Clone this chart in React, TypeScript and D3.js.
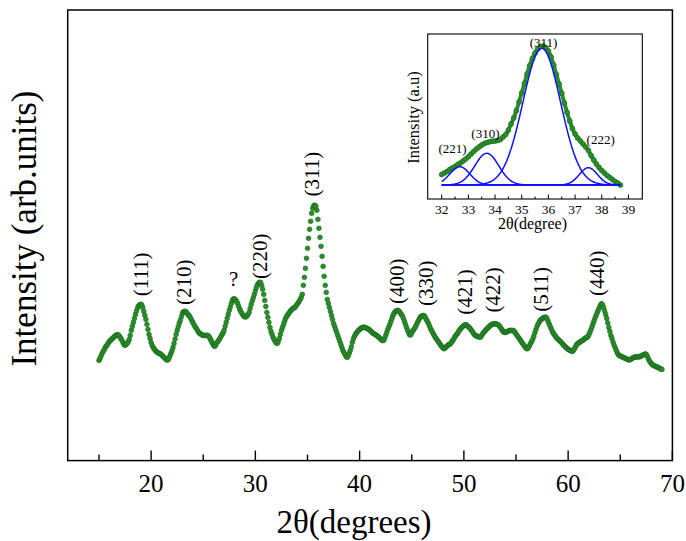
import React from 'react';
import * as d3 from 'd3';

const W = 686;
const H = 541;

// ---- main XRD pattern (2θ grid start/step, intensity in a.u.) ----
const mainStart = 15;
const mainStep = 0.1;
const mainIntensity = [
  100,102,104.5,107,109,110.5,113,114.5,115.5,117.5,
  119,120,121,122,123,124,125,125.5,125.7,125,
  123.5,122,120,118,116,115,116,117,118.5,121,
  125,130,134,138,142,146,149.5,152.5,154.5,155.5,
  156,155.5,153,149,145,141,136,131,126,122,
  118,115,113,111.5,110,109,108,107.5,107,106.5,
  105.5,104.5,103.5,102.5,101.5,100.5,100.5,102,104.5,107,
  109.5,113,117,121.5,126,130,133.5,137,140,143.5,
  147,148.5,149,149,148,146.5,145,144,142,140,
  138,136,134,132.5,131,129,127.5,127,126,125.5,
  125,125,125,125,125,124.5,123,121,119,117,
  115,114,115.5,117.5,119,120.5,122,124,126,127.5,
  130,134,138,142,146,150,153.5,157,160,161.5,
  161.5,160.5,159,157,154,151,149,147,145.5,144,
  143.5,143.5,144.5,146,148,152,156,159.5,162.5,166,
  169.5,173,175.5,177,178,178,175,171,166,160,
  154,148,143,138,133,129,126,123,121,119,
  117.5,117,119,122,126,130,133,136,139,142,
  144,145.5,147,148.5,150,151,152,152.5,153,154.5,
  156,157.5,159,161,163,166,175,183,192,202,
  212,222,231,239,247,252,254.5,255,254,250,
  241,232,223,214,204,194,184,175,168,161,
  157,153,149,145,141,137,134,131,128,125,
  122,119,116,113,110,108,106,104,103,104.5,
  107,110,113.5,118,121.5,124,126,127.5,129,130,
  131,132,132.5,133,133.3,133,132.5,132,131.5,131,
  130,129,128,127,126.5,126,125,124.5,123.5,122.5,
  121.5,120.5,120,120,122,125,128,131,133.5,136,
  139,142,145,147,148.5,149.5,150,150,149,147.5,
  146,144.5,142,139,136,133,130,127.5,125.5,125.5,
  127.5,129.5,131,132.5,134.5,137,139,141,143,144,
  144.5,145,144.5,143,141,139,137,134.5,132,130,
  128,126,124,122.5,121,119.5,118,116.5,115,113.5,
  112.5,111.7,112.5,113.5,114.5,115.5,116,116.5,118,119.5,
  121,123,124.5,126,127,129,130.5,132,133,134,
  135,135.5,135.7,135,134,133,132,130.5,129,127.5,
  126,125,124.5,124,123.5,123.3,123.3,125,126.5,128,
  129,130.5,131.5,132.5,133.5,134.5,135.5,136,136.5,136.7,
  136.7,136.5,136,135.5,134.5,133,131.5,130,128.5,128,
  128,128.5,129,129.5,130,130,130,130,129.5,128,
  126.5,125,123.5,122,120.5,119,117.5,116,114.5,113,
  112,111.7,113,115,117,119,121,124,127.5,130.5,
  133.5,136,138,139.5,141,141.5,142.5,143,143.3,143,
  141,138.5,136,133.5,131,128.5,127,125.5,124,122.5,
  121.5,120.5,119.5,118.5,117.5,116,115,114,113,112,
  111,110.5,110,109.5,109,110,111.5,113.5,115.5,116.7,
  117.5,118,119,119.5,120,121,122,122.5,123,124,
  126,128.5,131,134,137,140,143,145.5,148,150.5,
  153,155,156.7,155.5,153,149.5,146,142,137.5,133,
  129,125,122,118.5,115.5,113,110.5,108,106,105,
  104.5,104,103.5,103,102.5,102,101.5,101,100.5,100.5,
  101,102,102.5,103,103.5,103.5,103.5,103.5,103.5,104,
  104.5,105,105.5,106,106.5,106,104,101.5,99.5,98,
  96.5,95.7,95,94.5,94,93.5,93.3,92.5,92,91.5,
  91,
];
const mainMajorTicks = [20, 30, 40, 50, 60, 70];
const mainMinorTicks = [15, 25, 35, 45, 55, 65];

const peakLabels = ['(111)', '(210)', '?', '(220)', '(311)', '(400)', '(330)', '(421)', '(422)', '(511)', '(440)'];
const peakLabelTheta = [19.19, 23.36, 27.91, 30.62, 35.66, 43.78, 46.52, 50.26, 52.95, 57.56, 62.99];
const peakLabelIntensity = [186, 178, 182, 204, 286, 179, 177, 168.5, 170.5, 171, 187];

// ---- inset: (311) region deconvolution ----
const insetStart = 32;
const insetStep = 0.1;
const insetObserved = [
  10.5,12,13.5,15.5,17,18.5,20.5,22,24,26,
  28.3,31,33.5,36,38,40,41.5,42.5,43.3,43.8,
  44,44.5,45.5,48,50.5,55,61,67,74.5,83,
  92,101.5,111,119.5,126.5,132,136,138.5,139,137.5,
  134,128,120,110.5,101,91.7,82,72.5,64,56.5,
  51,47,44,41,38,34.5,29.5,25,21,17.5,
  14.5,12,9.5,7.5,5.5,3.5,2,0,
];
const fitLabels = ['(221)', '(310)', '(311)', '(222)'];
const fitCenters = [32.68, 33.69, 35.75, 37.5];
const fitHeights = [18.3, 31.7, 136.7, 17.3];
const fitFWHM = [0.88, 1.06, 1.66, 0.8];
const fitLabelTheta = [32.405, 33.64, 35.82, 37.96];
const fitLabelHeight = [36.7, 51.7, 142.3, 46];
const insetMajorTicks = [32, 33, 34, 35, 36, 37, 38, 39];
const insetMinorTicks = [32.5, 33.5, 34.5, 35.5, 36.5, 37.5, 38.5];
const fitRange = [32.0, 38.7];

const FONT = "'Liberation Serif', 'Times New Roman', serif";
const GREEN = '#2a8f2a';
const GREEN_EDGE = '#17661a';
const BLUE = '#1010ff';

export default function App() {
  // main scales
  const x = d3.scaleLinear().domain([12, 70]).range([67.7, 672.4]);
  const y = d3.scaleLinear().domain([0, 450]).range([460.6, 10]);
  const mainPts = mainIntensity.map((v, i) => [mainStart + i * mainStep, v] as [number, number]);

  // inset scales
  const ix = d3.scaleLinear().domain([31.475, 39.52]).range([427.7, 642.3]);
  const iy = d3.scaleLinear().domain([-14, 151]).range([199, 34]);
  const insetPts = insetObserved.map((v, i) => [insetStart + i * insetStep, v] as [number, number]);

  const fitGrid = d3.range(fitRange[0], fitRange[1] + 1e-9, 0.02);
  const gauss = (c: number, h: number, fwhm: number) => {
    const s = fwhm / 2.3548;
    return fitGrid.map((t) => [t, h * Math.exp(-((t - c) ** 2) / (2 * s * s))] as [number, number]);
  };
  const insetLine = d3.line<[number, number]>().x((d) => ix(d[0])).y((d) => iy(d[1])).curve(d3.curveMonotoneX);

  const frameB = 460.6;

  return (
    <svg width={W} height={H} style={{ position: 'absolute', left: 0, top: 0, background: '#fff' }} fontFamily={FONT}>
      <rect x={0} y={0} width={W} height={H} fill="#fff" />
      {/* main frame */}
      <rect x={x(12)} y={y(450)} width={x(70) - x(12)} height={frameB - y(450)} fill="none" stroke="#000" strokeWidth={1.5} />
      {mainMajorTicks.map((t) => (
        <g key={'mt' + t}>
          <line x1={x(t)} x2={x(t)} y1={frameB} y2={frameB - 10} stroke="#000" strokeWidth={1.4} />
          <text x={x(t)} y={492} fontSize={25} textAnchor="middle" fill="#000">{t}</text>
        </g>
      ))}
      {mainMinorTicks.map((t) => (
        <line key={'mn' + t} x1={x(t)} x2={x(t)} y1={frameB} y2={frameB - 6} stroke="#000" strokeWidth={1.4} />
      ))}
      <text x={354} y={533} fontSize={33} textAnchor="middle" fill="#000">2θ(degrees)</text>
      <text transform="translate(36,228.5) rotate(-90)" fontSize={35} textAnchor="middle" fill="#000">Intensity (arb.units)</text>

      {/* main data dots */}
      <g>
        {mainPts.map((d, i) => (
          <circle key={i} cx={x(d[0])} cy={y(d[1])} r={2.4} fill={GREEN} stroke={GREEN_EDGE} strokeWidth={0.6} />
        ))}
      </g>

      {/* peak labels */}
      {peakLabels.map((lab, i) =>
        lab === '?' ? (
          <text key={lab + i} x={x(peakLabelTheta[i])} y={y(peakLabelIntensity[i]) + 8} fontSize={21} textAnchor="middle" fill="#000">{lab}</text>
        ) : (
          <text key={lab + i} transform={`translate(${x(peakLabelTheta[i]) + 5},${y(peakLabelIntensity[i])}) rotate(-90)`} fontSize={21} textAnchor="middle" fill="#000">{lab}</text>
        )
      )}

      {/* inset */}
      <rect x={ix(31.475)} y={iy(151)} width={ix(39.52) - ix(31.475)} height={iy(-14) - iy(151)} fill="#fff" stroke="#000" strokeWidth={1.1} />
      {insetMajorTicks.map((t) => (
        <g key={'it' + t}>
          <line x1={ix(t)} x2={ix(t)} y1={iy(-14)} y2={iy(-14) - 4.5} stroke="#000" strokeWidth={1} />
          <text x={ix(t)} y={213.5} fontSize={13.5} textAnchor="middle" fill="#000">{t}</text>
        </g>
      ))}
      {insetMinorTicks.map((t) => (
        <line key={'in' + t} x1={ix(t)} x2={ix(t)} y1={iy(-14)} y2={iy(-14) - 2.5} stroke="#000" strokeWidth={1} />
      ))}
      <text x={532.5} y={229} fontSize={16} textAnchor="middle" fill="#000">2θ(degree)</text>
      <text transform="translate(419,117.5) rotate(-90)" fontSize={16.5} textAnchor="middle" fill="#000">Intensity (a.u)</text>

      <path d={insetLine(insetPts) || ''} fill="none" stroke={GREEN} strokeWidth={4} />
      {insetPts.map((d, i) => (
        <circle key={'ip' + i} cx={ix(d[0])} cy={iy(d[1])} r={2.5} fill={GREEN} stroke={GREEN_EDGE} strokeWidth={0.6} />
      ))}
      <line x1={ix(fitRange[0])} x2={ix(fitRange[1])} y1={iy(0)} y2={iy(0)} stroke={BLUE} strokeWidth={1.5} />
      {fitCenters.map((c, i) => (
        <path key={'g' + i} d={insetLine(gauss(c, fitHeights[i], fitFWHM[i])) || ''} fill="none" stroke={BLUE} strokeWidth={1.5} />
      ))}
      {fitLabels.map((lab, i) => (
        <text key={'fl' + i} x={ix(fitLabelTheta[i])} y={iy(fitLabelHeight[i]) + 4.5} fontSize={13} textAnchor="middle" fill="#000">{lab}</text>
      ))}
    </svg>
  );
}
